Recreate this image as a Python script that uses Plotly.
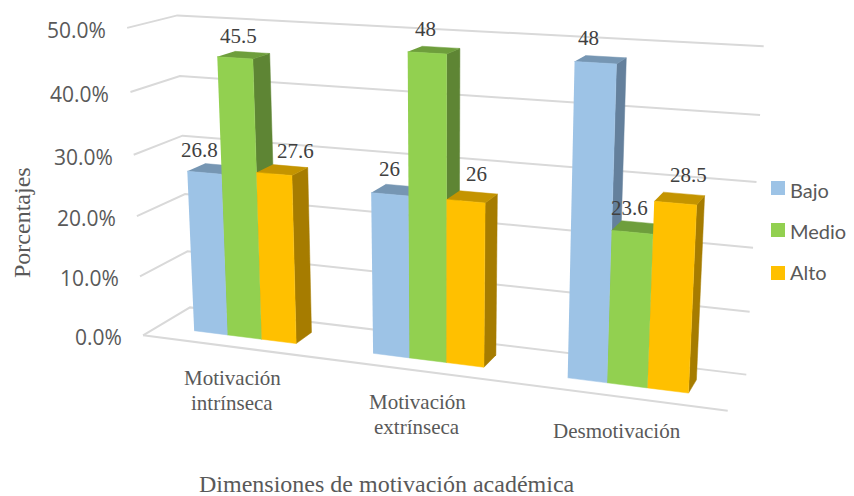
import numpy as np
import plotly.graph_objects as go

categorias = [["Motivación", "intrínseca"], ["Motivación", "extrínseca"], ["Desmotivación"]]
niveles = ["Bajo", "Medio", "Alto"]
bajo = [26.8, 26, 48]
medio = [45.5, 48, 23.6]
alto = [27.6, 26, 28.5]
ticks = [0, 10, 20, 30, 40, 50]
W, H = 854, 496

# view calibration: corners of the Excel-like 3D frame -> page position
anchors = [((0,0,0),(143,335)),((0,0,10),(140,277)),((0,0,20),(137,216)),((0,0,30),(134,155)),((0,0,40),(130,92)),((0,0,50),(127,28)),
           ((3,0,0),(728,410)),((0,1,0),(190,307)),((0,1,50),(178,15)),((0,1,40),(180,76)),((0,1,30),(182,136)),
           ((3,1,0),(747,375)),((3,1,10),(749,312)),((3,1,20),(753,248)),((3,1,30),(756,182)),((3,1,40),(760,115)),((3,1,50),(764,46))]
A = []
for (x,y,z),(u,v) in anchors:
    z = z/50; x = x/3
    A.append([x,y,z,1,0,0,0,0,-u*x,-u*y,-u*z,-u])
    A.append([0,0,0,0,x,y,z,1,-v*x,-v*y,-v*z,-v])
P = np.linalg.svd(np.array(A,float))[2][-1].reshape(3,4)
def proj(x,y,z):
    h = P @ np.array([x/3,y,z/50,1.0])
    return h[0]/h[2], h[1]/h[2]

t1, t2, hw = 0.315, 0.690, 0.290

fig = go.Figure()
GRID = "#d9d9d9"
def seg(pts):
    xy=[proj(*p) for p in pts]
    fig.add_trace(go.Scatter(x=[a for a,_ in xy],y=[b for _,b in xy],mode="lines",line=dict(color=GRID,width=2),hoverinfo="skip",showlegend=False))
for t in ticks:
    seg([(0,0,t),(0,1,t),(3,1,t)])
seg([(0,0,0),(3,0,0)])

front = {"Bajo":"#9DC3E6","Medio":"#92D050","Alto":"#FFC000"}
top = {"Bajo":"#7696B3","Medio":"#6E9E3C","Alto":"#C49400"}
side = {"Bajo":"#64809C","Medio":"#5E8534","Alto":"#A67C00"}
def face(pts,col,name,val):
    xy=[proj(*p) for p in pts]
    fig.add_trace(go.Scatter(x=[a for a,_ in xy],y=[b for _,b in xy],mode="lines",fill="toself",fillcolor=col,
        line=dict(color=col,width=0.5),name=name,customdata=[val]*len(xy),hoverinfo="skip",showlegend=False))
series=[bajo,medio,alto]
for g in range(3):
    for s,(n,vals) in enumerate(zip(niveles,series)):
        v=vals[g]
        x0=g+.5-hw+s*2*hw/3; x1=x0+2*hw/3
        face([(x1,t1,0),(x1,t2,0),(x1,t2,v),(x1,t1,v)],side[n],n,v)
        face([(x0,t1,v),(x1,t1,v),(x1,t2,v),(x0,t2,v)],top[n],n,v)
        face([(x0,t1,0),(x1,t1,0),(x1,t1,v),(x0,t1,v)],front[n],n,v)

ann=[]
AX=dict(xref="x",yref="y",showarrow=False)
for t in ticks:
    a,b=proj(0,0,t)
    ann.append(dict(x=a-19,y=b+2,text=f"{t:.1f}%",xanchor="right",yanchor="middle",font=dict(family="Open Sans",size=21,color="#595959"),**AX))
label_shift=[[(-5,-23),(0,-25),(-7,-25)],[(4,-22),(-2,-24),(-3,-24)],[(21,-23),(11,-27),(13,-28)]]
for s,vals in enumerate(series):
    for g,v in enumerate(vals):
        a,b=proj(g+.5-hw+(s+.5)*2*hw/3,t1,v)
        dx,dy=label_shift[s][g]
        ann.append(dict(x=a+dx,y=b+dy,text=str(v),xanchor="center",yanchor="middle",font=dict(family="Liberation Serif",size=21,color="#404040"),**AX))
cat_pos=[(232,378),(417,402),(617,431)]
for (cx,cy),lines in zip(cat_pos,categorias):
    for i,l in enumerate(lines):
        ann.append(dict(x=cx,y=cy+i*25,text=l,xanchor="center",yanchor="middle",font=dict(family="Liberation Serif",size=21,color="#595959"),**AX))
ann.append(dict(x=387,y=484,text="Dimensiones de motivación académica",xanchor="center",yanchor="middle",font=dict(family="Liberation Serif",size=24,color="#595959"),**AX))
ann.append(dict(x=22,y=223,text="Porcentajes",textangle=-90,xanchor="center",yanchor="middle",font=dict(family="Liberation Serif",size=24,color="#595959"),**AX))
shapes=[]
for n,y,ty in zip(niveles,[188,230,273],[190,231,272]):
    shapes.append(dict(type="rect",xref="x",yref="y",x0=771,x1=785,y0=y-7,y1=y+7,fillcolor=front[n],line=dict(width=0)))
    ann.append(dict(x=788,y=ty,text=n,xanchor="left",yanchor="middle",font=dict(family="Lato",size=20,color="#595959"),**AX))
fig.update_layout(width=W-8,height=H-8,margin=dict(l=0,r=0,t=0,b=0),paper_bgcolor="white",plot_bgcolor="white",showlegend=False,
    xaxis=dict(range=[8,W],visible=False,fixedrange=True),yaxis=dict(range=[H,8],visible=False,fixedrange=True),annotations=ann,shapes=shapes)
fig.write_html("out.html")
